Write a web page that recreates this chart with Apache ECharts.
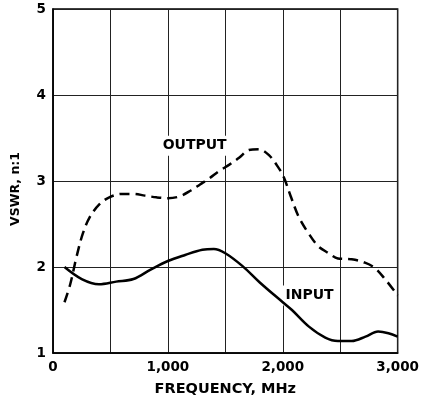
<!DOCTYPE html>
<html>
<head>
<meta charset="utf-8">
<style>
  html, body { margin: 0; padding: 0; background: #fff; }
  #chart { width: 422px; height: 402px; }
</style>
<script src="https://cdn.jsdelivr.net/npm/echarts@6/dist/echarts.min.js"></script>
</head>
<body>
<div id="chart"></div>
<script>
// Frequency sweep points (MHz) and VSWR readings for each port
const inputFreq = [100, 250, 400, 550, 700, 850, 1000, 1150, 1300, 1400, 1500, 1650, 1800, 2000, 2080, 2225, 2370, 2480, 2600, 2720, 2830, 2920, 3000];
const inputVswr = [2.0, 1.86, 1.80, 1.83, 1.86, 1.97, 2.07, 2.14, 2.20, 2.21, 2.16, 2.01, 1.82, 1.59, 1.50, 1.31, 1.18, 1.14, 1.14, 1.19, 1.25, 1.23, 1.19];

const outputFreq = [100, 150, 205, 260, 320, 405, 490, 600, 700, 800, 900, 1000, 1100, 1200, 1280, 1360, 1450, 1535, 1620, 1705, 1790, 1880, 1965, 2010, 2070, 2140, 2225, 2310, 2400, 2480, 2600, 2715, 2800, 2890, 3000];
const outputVswr = [1.59, 1.80, 2.12, 2.39, 2.58, 2.73, 2.81, 2.85, 2.85, 2.83, 2.81, 2.80, 2.82, 2.89, 2.96, 3.03, 3.12, 3.19, 3.27, 3.36, 3.37, 3.30, 3.15, 3.04, 2.82, 2.58, 2.39, 2.24, 2.16, 2.10, 2.09, 2.05, 1.99, 1.86, 1.67];

// Axis ranges and tick labels
const freqMin = 0, freqMax = 3000, freqStep = 500;
const vswrMin = 1, vswrMax = 5, vswrStep = 1;
const freqTickLabels = { 0: '0', 1000: '1,000', 2000: '2,000', 3000: '3,000' };

const seriesNames = ['INPUT', 'OUTPUT'];

const pairs = (xs, ys) => xs.map((x, i) => [x, ys[i]]);

const FONT = 'DejaVu Sans';

const chart = echarts.init(document.getElementById('chart'), null, { renderer: 'canvas' });

chart.setOption({
  animation: false,
  backgroundColor: '#ffffff',
  grid: {
    left: 53, right: 21, top: 9, bottom: 42,
    show: true, borderColor: '#000', borderWidth: 1.5, backgroundColor: 'transparent'
  },
  xAxis: {
    type: 'value',
    min: freqMin, max: freqMax, interval: freqStep,
    name: 'FREQUENCY, MHz',
    nameLocation: 'middle',
    nameGap: 29,
    nameTextStyle: { fontFamily: FONT, fontWeight: 'bold', fontSize: 14.5, color: '#000' },
    axisLine: { show: true, lineStyle: { color: '#000', width: 1.5 } },
    axisTick: { show: false },
    axisLabel: {
      margin: 7,
      fontFamily: FONT, fontWeight: 'bold', fontSize: 13.5, color: '#000',
      showMinLabel: true, showMaxLabel: true,
      formatter: v => freqTickLabels[v] || ''
    },
    splitLine: { show: true, lineStyle: { color: '#222', width: 1 } }
  },
  yAxis: {
    type: 'value',
    min: vswrMin, max: vswrMax, interval: vswrStep,
    name: 'VSWR, n:1',
    nameLocation: 'middle',
    nameGap: 31,
    nameRotate: 90,
    nameTextStyle: {
      fontFamily: FONT, fontWeight: 'bold', fontSize: 12.5, color: '#000',
      padding: [0, 16, 0, 0]
    },
    axisLine: { show: true, lineStyle: { color: '#000', width: 1.5 } },
    axisTick: { show: false },
    axisLabel: {
      margin: 7,
      fontFamily: FONT, fontWeight: 'bold', fontSize: 13.5, color: '#000'
    },
    splitLine: { show: true, lineStyle: { color: '#222', width: 1 } }
  },
  series: [
    {
      // curve captions, with a white plate that breaks the grid behind them
      type: 'scatter',
      z: 1,
      silent: true,
      symbolSize: 0,
      itemStyle: { opacity: 1 },
      data: [
        { value: [2233, 1.67], name: seriesNames[0] },
        { value: [1233, 3.41], name: seriesNames[1] }
      ],
      label: {
        show: true,
        position: 'inside',
        formatter: p => p.name,
        fontFamily: FONT, fontWeight: 'bold', fontSize: 14, color: '#000',
        opacity: 1,
        textBorderWidth: 0,
        backgroundColor: '#fff',
        padding: [3, 4]
      }
    },
    {
      name: seriesNames[0],
      type: 'line',
      z: 3,
      data: pairs(inputFreq, inputVswr),
      smooth: 0.35,
      showSymbol: false,
      lineStyle: { color: '#000', width: 2.5 }
    },
    {
      name: seriesNames[1],
      type: 'line',
      z: 3,
      data: pairs(outputFreq, outputVswr),
      smooth: 0.35,
      showSymbol: false,
      lineStyle: { color: '#000', width: 2.5, type: [10, 6] }
    }
  ]
});
</script>
</body>
</html>
